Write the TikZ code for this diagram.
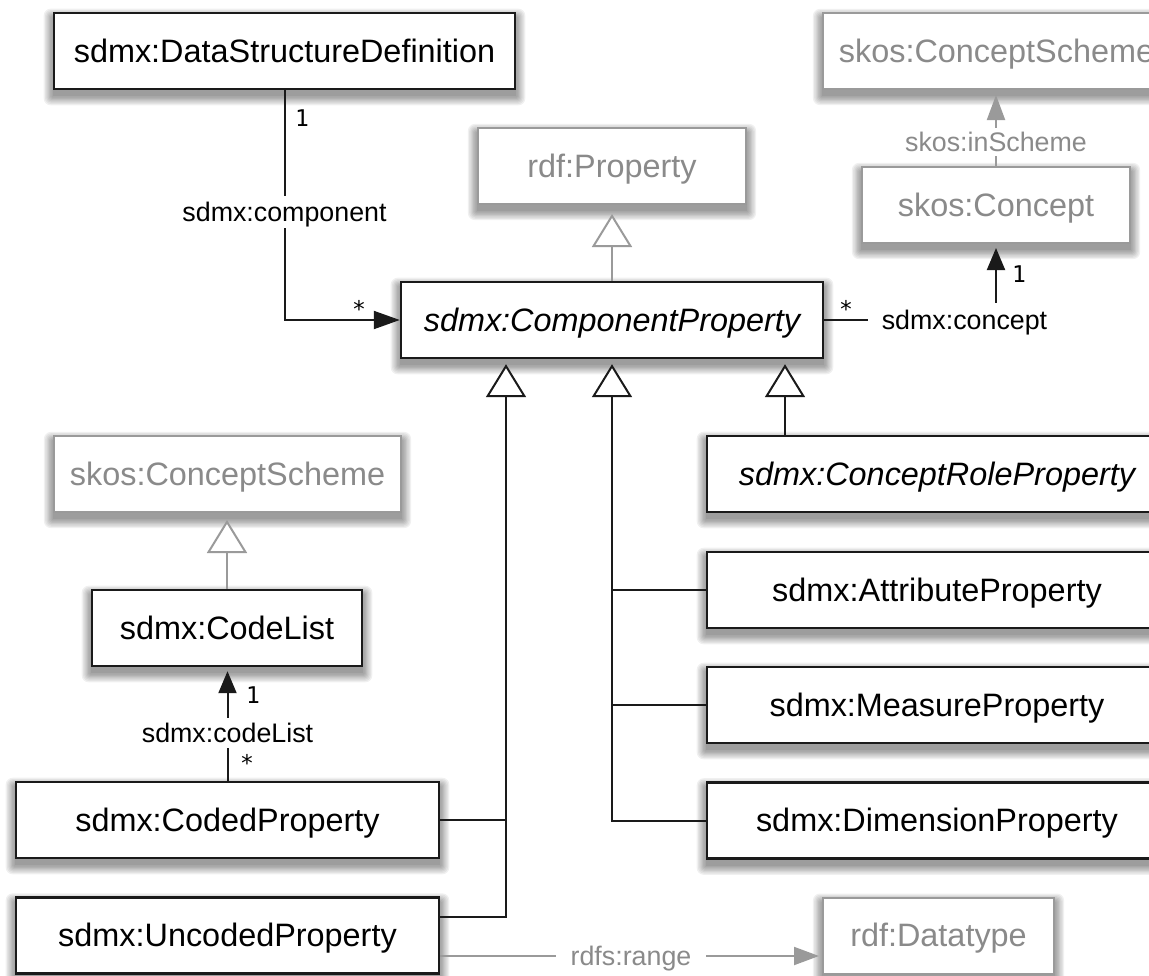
\documentclass[tikz,border=0pt]{standalone}
\usepackage{fontspec}
\setmainfont{Liberation Sans}
\newfontfamily\multfont{DejaVu Sans Mono}
\usetikzlibrary{arrows.meta,backgrounds}

\definecolor{ink}{HTML}{1A1A1A}
\definecolor{greyline}{HTML}{9A9A9A}
\definecolor{greytext}{HTML}{8A8A8A}

\tikzset{
  cls/.style={draw=ink, line width=2.4pt, fill=white, minimum height=76pt,
    inner sep=0pt, text=black, font=\fontsize{32.4}{38}\selectfont,
    text height=24pt, text depth=2pt},
  ext/.style={cls, draw=greyline, line width=2pt, text=greytext},
  abstract/.style={font=\fontsize{32.4}{38}\selectfont\itshape},
  link/.style={draw=ink, line width=2pt},
  assoc/.style={link, -{Triangle[length=22pt,width=18pt]}},
  gen/.style={link, -{Triangle[length=33pt,width=40pt,fill=white]}},
  extgen/.style={gen, draw=greyline},
  extassoc/.style={draw=greyline, line width=2pt, -{Triangle[length=25pt,width=18pt]}},
  role/.style={fill=white, inner xsep=4pt, inner ysep=5pt, text=black,
    font=\fontsize{26.8}{30}\selectfont, text height=20pt, text depth=2pt},
  extrole/.style={role, text=greytext},
  mult/.style={inner sep=0pt, text=black, font=\multfont\fontsize{23}{26}\selectfont},
}

% soft shadow under a class box, built from stacked translucent rectangles
\newcommand\boxshadow[1]{%
  \foreach \k in {0,...,7}{%
    \fill[black, opacity=0.06, rounded corners=\k pt]
      ([xshift=-\k*1.3pt, yshift=-6pt-\k*1.3pt]#1.south west) rectangle
      ([xshift=\k*1.3pt, yshift=-6pt+\k*1.3pt]#1.north east);
  }}

\begin{document}
\begin{tikzpicture}[x=1pt, y=-1pt]
\path[use as bounding box, clip] (0,0) rectangle (1149,975);

% classes
\node[cls, minimum width=461pt] (dsd) at (284.5,51) {sdmx:DataStructureDefinition};
\node[ext, minimum width=347pt] (cs1) at (996.5,51) {skos:ConceptScheme};
\node[ext, minimum width=268pt] (rdfprop) at (612,166) {rdf:Property};
\node[ext, minimum width=268pt] (concept) at (996,205) {skos:Concept};
\node[cls, abstract, minimum width=422pt] (cp) at (612,320) {sdmx:ComponentProperty};
\node[ext, minimum width=347pt] (cs2) at (227.5,474) {skos:ConceptScheme};
\node[cls, abstract, minimum width=460pt] (crp) at (937,474) {sdmx:ConceptRoleProperty};
\node[cls, minimum width=460pt] (attr) at (937,590) {sdmx:AttributeProperty};
\node[cls, minimum width=270pt] (codelist) at (227,628) {sdmx:CodeList};
\node[cls, minimum width=460pt] (meas) at (937,705) {sdmx:MeasureProperty};
\node[cls, minimum width=460pt] (dim) at (937,820.5) {sdmx:DimensionProperty};
\node[cls, minimum width=423pt] (coded) at (227.5,820) {sdmx:CodedProperty};
\node[cls, minimum width=423pt] (uncoded) at (227.5,935.6) {sdmx:UncodedProperty};
\node[ext, minimum width=231pt] (datatype) at (938.5,935.6) {rdf:Datatype};

\begin{pgfonlayer}{background}
  \foreach \n in {dsd,cs1,rdfprop,concept,cp,cs2,crp,attr,codelist,meas,dim,coded,uncoded,datatype}
    {\boxshadow{\n}}
\end{pgfonlayer}

% trunks of the generalisation trees
\coordinate (trunkL) at (506,0);
\coordinate (trunkR) at (785,0);

% sdmx:component
\draw[link, -{Triangle[length=26pt,width=18pt]}] (dsd.south) |- (cp.west);
\node[role] (lcomp) at (284.5,212) {sdmx:component};
\node[mult] (m1) at (302,118) {1};
\node[mult] (m2) at (359,309) {*};

% ComponentProperty is an rdf:Property
\draw[extgen, shorten >=9pt] (cp.north) -- (rdfprop.south);

% sdmx:concept
\draw[assoc, shorten >=4pt] (cp.east) -| (concept.south);
\node[role, inner xsep=14pt, inner ysep=6pt] (lconc) at (964.5,320) {sdmx:concept};
\node[mult] (m3) at (846,309) {*};
\node[mult] (m4) at (1019,274) {1};

% skos:inScheme
\draw[extassoc, shorten >=5pt] (concept.north) -- (concept.north |- cs1.south);
\node[extrole, inner ysep=3pt] (lscheme) at (996,142) {skos:inScheme};

% subclasses of sdmx:ComponentProperty
\draw[gen, shorten >=5pt] ([yshift=18.6pt]uncoded.east) -| (cp.south -| trunkL);
\draw[link] (coded.east) -- (coded.east -| trunkL);
\draw[gen, shorten >=5pt] (dim.west) -| (cp.south);
\draw[link] (attr.west) -- (attr.west -| cp.south);
\draw[link] (meas.west) -- (meas.west -| cp.south);
\draw[gen, shorten >=5pt] (crp.north -| trunkR) -- (cp.south -| trunkR);

% CodeList is a ConceptScheme
\draw[extgen, shorten >=7pt] (codelist.north) -- (codelist.north |- cs2.south);

% sdmx:codeList
\draw[assoc, shorten >=4pt] (coded.north) -- (coded.north |- codelist.south);
\node[role, inner ysep=4pt] (lcl) at (227.5,733) {sdmx:codeList};
\node[mult] (m5) at (253,695) {1};
\node[mult] (m6) at (247,763) {*};

% rdfs:range
\draw[extassoc, shorten >=3pt] ([yshift=-20.4pt]uncoded.east) -- ([yshift=-20.4pt]datatype.west);
\node[extrole, inner xsep=15pt, inner ysep=3pt] (lrange) at (631,956) {rdfs:range};
\end{tikzpicture}
\end{document}
